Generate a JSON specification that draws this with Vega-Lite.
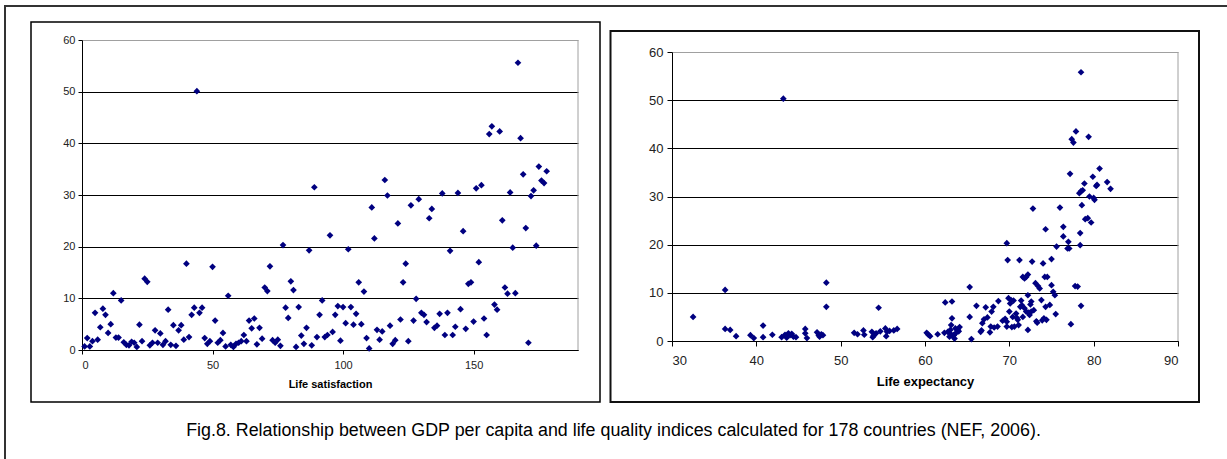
{
  "$schema": "https://vega.github.io/schema/vega-lite/v6.json",
  "width": 1227,
  "height": 459,
  "autosize": "none",
  "padding": 0,
  "background": "white",
  "config": {"view": {"stroke": null}, "font": "Liberation Sans"},
  "title": {"text": "Fig.8. Relationship between GDP per capita and life quality indices calculated for 178 countries (NEF, 2006).", "orient": "bottom", "frame": "group", "anchor": "middle", "offset": -42, "fontSize": 17.85, "fontWeight": "normal", "font": "Liberation Sans", "color": "#000"},
  "datasets": {
    "one": [{"item": "frame"}],
    "sat": [
      {"rank":1,"gdp":0.7},{"rank":2,"gdp":2.3},{"rank":3,"gdp":0.7},{"rank":4,"gdp":1.7},{"rank":5,"gdp":7.2},{"rank":6,"gdp":2.0},{"rank":7,"gdp":4.4},{"rank":8,"gdp":8.0},{"rank":9,"gdp":6.8},{"rank":10,"gdp":3.3},
      {"rank":11,"gdp":5.0},{"rank":12,"gdp":11.0},{"rank":13,"gdp":2.4},{"rank":14,"gdp":2.4},{"rank":15,"gdp":9.6},{"rank":16,"gdp":1.5},{"rank":17,"gdp":1.0},{"rank":18,"gdp":0.9},{"rank":19,"gdp":1.6},{"rank":20,"gdp":1.4},
      {"rank":21,"gdp":0.6},{"rank":22,"gdp":4.9},{"rank":23,"gdp":1.7},{"rank":24,"gdp":13.8},{"rank":25,"gdp":13.2},{"rank":26,"gdp":0.9},{"rank":27,"gdp":1.4},{"rank":28,"gdp":3.8},{"rank":29,"gdp":1.4},{"rank":30,"gdp":3.2},
      {"rank":31,"gdp":1.0},{"rank":32,"gdp":1.7},{"rank":33,"gdp":7.8},{"rank":34,"gdp":1.0},{"rank":35,"gdp":4.8},{"rank":36,"gdp":0.8},{"rank":37,"gdp":3.8},{"rank":38,"gdp":4.8},{"rank":39,"gdp":2.0},{"rank":40,"gdp":16.7},
      {"rank":41,"gdp":2.5},{"rank":42,"gdp":6.8},{"rank":43,"gdp":8.2},{"rank":44,"gdp":50.1},{"rank":45,"gdp":7.2},{"rank":46,"gdp":8.2},{"rank":47,"gdp":2.3},{"rank":48,"gdp":1.2},{"rank":49,"gdp":1.7},{"rank":50,"gdp":16.1},
      {"rank":51,"gdp":5.7},{"rank":52,"gdp":1.4},{"rank":53,"gdp":1.9},{"rank":54,"gdp":3.3},{"rank":55,"gdp":0.7},{"rank":56,"gdp":10.5},{"rank":57,"gdp":1.0},{"rank":58,"gdp":0.6},{"rank":59,"gdp":1.2},{"rank":60,"gdp":1.4},
      {"rank":61,"gdp":1.7},{"rank":62,"gdp":2.9},{"rank":63,"gdp":1.7},{"rank":64,"gdp":5.7},{"rank":65,"gdp":4.2},{"rank":66,"gdp":6.1},{"rank":67,"gdp":1.1},{"rank":68,"gdp":4.3},{"rank":69,"gdp":2.2},{"rank":70,"gdp":12.1},
      {"rank":71,"gdp":11.4},{"rank":72,"gdp":16.2},{"rank":73,"gdp":1.9},{"rank":74,"gdp":1.4},{"rank":75,"gdp":2.0},{"rank":76,"gdp":0.8},{"rank":77,"gdp":20.3},{"rank":78,"gdp":8.2},{"rank":79,"gdp":6.2},{"rank":80,"gdp":13.3},
      {"rank":81,"gdp":11.6},{"rank":82,"gdp":0.6},{"rank":83,"gdp":8.3},{"rank":84,"gdp":2.8},{"rank":85,"gdp":1.2},{"rank":86,"gdp":4.3},{"rank":87,"gdp":19.3},{"rank":88,"gdp":0.9},{"rank":89,"gdp":31.5},{"rank":90,"gdp":2.5},
      {"rank":91,"gdp":6.8},{"rank":92,"gdp":9.6},{"rank":93,"gdp":2.5},{"rank":94,"gdp":2.9},{"rank":95,"gdp":22.2},{"rank":96,"gdp":3.5},{"rank":97,"gdp":6.8},{"rank":98,"gdp":8.5},{"rank":99,"gdp":1.8},{"rank":100,"gdp":8.3},
      {"rank":101,"gdp":5.2},{"rank":102,"gdp":19.5},{"rank":103,"gdp":8.3},{"rank":104,"gdp":4.9},{"rank":105,"gdp":7.0},{"rank":106,"gdp":13.1},{"rank":107,"gdp":5.0},{"rank":108,"gdp":11.3},{"rank":109,"gdp":2.3},{"rank":110,"gdp":0.3},
      {"rank":111,"gdp":27.6},{"rank":112,"gdp":21.6},{"rank":113,"gdp":3.9},{"rank":114,"gdp":2.0},{"rank":115,"gdp":3.6},{"rank":116,"gdp":32.9},{"rank":117,"gdp":29.9},{"rank":118,"gdp":4.7},{"rank":119,"gdp":1.2},{"rank":120,"gdp":1.9},
      {"rank":121,"gdp":24.5},{"rank":122,"gdp":5.9},{"rank":123,"gdp":13.1},{"rank":124,"gdp":16.7},{"rank":125,"gdp":1.7},{"rank":126,"gdp":28.0},{"rank":127,"gdp":5.7},{"rank":128,"gdp":9.9},{"rank":129,"gdp":29.2},{"rank":130,"gdp":7.2},
      {"rank":131,"gdp":6.8},{"rank":132,"gdp":5.4},{"rank":133,"gdp":25.5},{"rank":134,"gdp":27.3},{"rank":135,"gdp":4.3},{"rank":136,"gdp":4.7},{"rank":137,"gdp":7.0},{"rank":138,"gdp":30.3},{"rank":139,"gdp":2.9},{"rank":140,"gdp":7.2},
      {"rank":141,"gdp":19.2},{"rank":142,"gdp":2.9},{"rank":143,"gdp":4.5},{"rank":144,"gdp":30.4},{"rank":145,"gdp":7.9},{"rank":146,"gdp":23.0},{"rank":147,"gdp":4.1},{"rank":148,"gdp":12.8},{"rank":149,"gdp":13.1},{"rank":150,"gdp":5.5},
      {"rank":151,"gdp":31.3},{"rank":152,"gdp":17.0},{"rank":153,"gdp":31.9},{"rank":154,"gdp":6.1},{"rank":155,"gdp":2.9},{"rank":156,"gdp":41.8},{"rank":157,"gdp":43.3},{"rank":158,"gdp":8.8},{"rank":159,"gdp":7.8},{"rank":160,"gdp":42.3},
      {"rank":161,"gdp":25.1},{"rank":162,"gdp":12.1},{"rank":163,"gdp":10.9},{"rank":164,"gdp":30.5},{"rank":165,"gdp":19.8},{"rank":166,"gdp":11.0},{"rank":167,"gdp":55.6},{"rank":168,"gdp":41.0},{"rank":169,"gdp":34.0},{"rank":170,"gdp":23.6},
      {"rank":171,"gdp":1.4},{"rank":172,"gdp":29.8},{"rank":173,"gdp":30.9},{"rank":174,"gdp":20.2},{"rank":175,"gdp":35.5},{"rank":176,"gdp":32.8},{"rank":177,"gdp":32.3},{"rank":178,"gdp":34.6}
    ],
    "exp": [
      {"le":32.5,"gdp":5.0},{"le":36.3,"gdp":10.6},{"le":36.3,"gdp":2.5},{"le":36.9,"gdp":2.3},{"le":37.6,"gdp":1.0},{"le":39.3,"gdp":1.2},{"le":39.7,"gdp":0.6},{"le":40.8,"gdp":3.2},{"le":40.8,"gdp":0.8},{"le":41.9,"gdp":1.3},
      {"le":43.2,"gdp":50.3},{"le":43.0,"gdp":0.8},{"le":43.4,"gdp":1.3},{"le":43.8,"gdp":1.6},{"le":44.0,"gdp":1.2},{"le":44.4,"gdp":0.9},{"le":44.7,"gdp":0.8},{"le":45.8,"gdp":2.5},{"le":45.8,"gdp":1.6},{"le":46.0,"gdp":0.6},
      {"le":47.2,"gdp":1.8},{"le":47.4,"gdp":1.2},{"le":47.7,"gdp":1.4},{"le":47.9,"gdp":1.2},{"le":48.3,"gdp":12.1},{"le":48.3,"gdp":7.1},{"le":51.6,"gdp":1.7},{"le":52.0,"gdp":1.4},{"le":52.7,"gdp":2.2},{"le":52.8,"gdp":1.3},
      {"le":53.7,"gdp":1.9},{"le":53.9,"gdp":1.1},{"le":54.2,"gdp":1.6},{"le":54.5,"gdp":6.9},{"le":54.7,"gdp":2.0},{"le":55.3,"gdp":2.6},{"le":55.4,"gdp":1.0},{"le":55.8,"gdp":2.1},{"le":56.3,"gdp":2.2},{"le":56.7,"gdp":2.5},
      {"le":60.2,"gdp":1.7},{"le":60.6,"gdp":1.0},{"le":61.5,"gdp":1.4},
      {"le":62.4,"gdp":8.0},{"le":63.2,"gdp":8.2},{"le":62.3,"gdp":1.7},{"le":62.7,"gdp":1.9},{"le":63.2,"gdp":4.7},{"le":63.0,"gdp":2.3},{"le":63.1,"gdp":1.4},{"le":63.3,"gdp":1.0},{"le":63.5,"gdp":0.5},{"le":63.7,"gdp":1.7},
      {"le":63.9,"gdp":2.3},{"le":64.1,"gdp":2.9},{"le":63.6,"gdp":2.6},{"le":63.1,"gdp":3.3},{"le":65.3,"gdp":11.2},{"le":65.3,"gdp":5.0},{"le":65.5,"gdp":0.4},{"le":66.1,"gdp":7.3},{"le":66.6,"gdp":1.9},{"le":66.8,"gdp":3.7},
      {"le":67.0,"gdp":4.5},{"le":67.2,"gdp":7.0},{"le":67.4,"gdp":4.9},{"le":67.8,"gdp":3.0},{"le":67.7,"gdp":1.8},{"le":67.9,"gdp":6.1},{"le":68.1,"gdp":7.1},{"le":68.7,"gdp":8.3},{"le":68.6,"gdp":3.0},{"le":69.2,"gdp":4.2},
      {"le":69.7,"gdp":20.3},{"le":69.8,"gdp":16.8},{"le":69.7,"gdp":4.0},{"le":69.7,"gdp":3.0},{"le":69.9,"gdp":8.9},{"le":70.0,"gdp":6.1},{"le":70.2,"gdp":8.5},{"le":70.4,"gdp":5.0},{"le":70.5,"gdp":8.4},{"le":70.6,"gdp":3.0},
      {"le":70.8,"gdp":5.7},{"le":71.0,"gdp":4.4},{"le":71.1,"gdp":3.3},{"le":71.2,"gdp":16.8},{"le":71.3,"gdp":7.1},{"le":71.4,"gdp":8.4},{"le":71.6,"gdp":13.3},{"le":71.8,"gdp":13.0},{"le":72.0,"gdp":13.3},{"le":72.2,"gdp":13.8},
      {"le":71.6,"gdp":5.0},{"le":71.8,"gdp":6.8},{"le":72.0,"gdp":6.1},{"le":72.2,"gdp":9.5},{"le":72.2,"gdp":2.3},{"le":72.4,"gdp":5.4},{"le":72.6,"gdp":8.2},{"le":72.7,"gdp":16.5},{"le":72.8,"gdp":27.5},{"le":72.6,"gdp":6.1},
      {"le":72.9,"gdp":6.4},{"le":73.1,"gdp":12.0},{"le":73.3,"gdp":3.8},{"le":73.4,"gdp":11.4},{"le":73.6,"gdp":10.9},{"le":73.8,"gdp":8.5},{"le":74.0,"gdp":16.1},{"le":74.1,"gdp":4.7},{"le":74.2,"gdp":13.3},{"le":74.3,"gdp":23.2},
      {"le":74.4,"gdp":4.4},{"le":74.5,"gdp":13.3},{"le":74.3,"gdp":7.1},{"le":74.8,"gdp":7.5},{"le":75.0,"gdp":17.0},{"le":75.0,"gdp":11.6},{"le":75.2,"gdp":10.2},{"le":75.4,"gdp":9.5},{"le":75.5,"gdp":5.6},{"le":75.6,"gdp":19.6},
      {"le":76.0,"gdp":27.7},{"le":76.4,"gdp":23.7},{"le":76.4,"gdp":21.7},{"le":77.0,"gdp":20.6},{"le":76.9,"gdp":19.2},{"le":77.1,"gdp":19.2},{"le":77.2,"gdp":34.7},{"le":77.3,"gdp":3.5},{"le":77.4,"gdp":41.9},{"le":77.6,"gdp":41.2},
      {"le":77.9,"gdp":43.5},{"le":77.8,"gdp":11.4},{"le":78.1,"gdp":11.3},{"le":78.3,"gdp":30.7},{"le":78.4,"gdp":22.4},{"le":78.4,"gdp":19.9},{"le":78.5,"gdp":55.8},{"le":78.5,"gdp":31.1},{"le":78.5,"gdp":7.3},{"le":78.6,"gdp":28.2},
      {"le":78.7,"gdp":31.3},{"le":78.9,"gdp":32.7},{"le":79.0,"gdp":25.3},{"le":79.3,"gdp":25.5},{"le":79.4,"gdp":42.4},{"le":79.5,"gdp":30.0},{"le":79.7,"gdp":24.6},{"le":79.9,"gdp":34.1},{"le":80.0,"gdp":29.7},{"le":80.1,"gdp":29.3},
      {"le":80.3,"gdp":32.2},{"le":80.4,"gdp":32.4},{"le":80.7,"gdp":35.8},{"le":81.6,"gdp":33.0},{"le":82.0,"gdp":31.6},
      {"le":43.6,"gdp":0.7},{"le":44.2,"gdp":1.5},{"le":47.5,"gdp":0.9},{"le":53.8,"gdp":0.8},{"le":55.5,"gdp":1.9},{"le":60.4,"gdp":1.3},{"le":62.9,"gdp":0.9},{"le":63.4,"gdp":1.2},{"le":64.0,"gdp":2.0},{"le":66.7,"gdp":2.2},
      {"le":68.2,"gdp":2.8},{"le":70.3,"gdp":2.9},{"le":70.9,"gdp":4.8},{"le":71.5,"gdp":7.4},{"le":72.3,"gdp":5.9},{"le":72.5,"gdp":7.6},{"le":73.2,"gdp":4.1},{"le":73.9,"gdp":4.3},{"le":70.1,"gdp":7.8},{"le":69.5,"gdp":4.6}
    ]
  },
  "layer": [
    {
      "data": {"name": "one"},
      "mark": {"type": "rect", "filled": false, "color": "#333333", "strokeWidth": 2},
      "encoding": {
        "x": {"field": "item", "type": "nominal", "scale": {"type": "band", "range": [5, 1231], "paddingInner": 0, "paddingOuter": 0}, "axis": null},
        "y": {"field": "item", "type": "nominal", "scale": {"type": "band", "range": [6, 463], "paddingInner": 0, "paddingOuter": 0}, "axis": null}
      }
    },
    {
      "data": {"name": "one"},
      "mark": {"type": "rect", "filled": false, "color": "#000000", "strokeWidth": 1.5},
      "encoding": {
        "x": {"field": "item", "type": "nominal", "scale": {"type": "band", "range": [31, 600], "paddingInner": 0, "paddingOuter": 0}, "axis": null},
        "y": {"field": "item", "type": "nominal", "scale": {"type": "band", "range": [22, 402], "paddingInner": 0, "paddingOuter": 0}, "axis": null}
      }
    },
    {
      "data": {"name": "one"},
      "mark": {"type": "rect", "filled": false, "color": "#111111", "strokeWidth": 2},
      "encoding": {
        "x": {"field": "item", "type": "nominal", "scale": {"type": "band", "range": [610.5, 1199], "paddingInner": 0, "paddingOuter": 0}, "axis": null},
        "y": {"field": "item", "type": "nominal", "scale": {"type": "band", "range": [31, 402], "paddingInner": 0, "paddingOuter": 0}, "axis": null}
      }
    },
    {
      "layer": [
        {
          "data": {"name": "sat"},
          "mark": {"type": "point", "shape": "diamond", "filled": true, "color": "#000080", "size": 45, "opacity": 1},
          "encoding": {
            "x": {"field": "rank", "type": "quantitative", "scale": {"domain": [0, 190], "range": [82, 578], "nice": false, "zero": false},
              "axis": {"orient": "bottom", "offset": -109, "values": [0, 50, 100, 150], "title": "Life satisfaction", "titleFontSize": 11, "titleFontWeight": "bold", "titleColor": "#000", "titlePadding": 8, "labelFontSize": 11, "labelColor": "#222", "labelPadding": 5, "tickSize": 4, "tickColor": "#000", "domainColor": "#000", "grid": false}},
            "y": {"field": "gdp", "type": "quantitative", "scale": {"domain": [0, 60], "range": [350, 40], "nice": false, "zero": false},
              "axis": {"orient": "left", "offset": -82, "values": [0, 10, 20, 30, 40, 50, 60], "title": null, "labelFontSize": 11, "labelColor": "#222", "labelPadding": 3, "tickSize": 4, "tickColor": "#000", "domainColor": "#000", "grid": true, "gridColor": {"condition": {"test": "datum.value == 60", "value": "#a0a0a0"}, "value": "#000000"}, "gridOpacity": 1}}
          }
        },
        {
          "data": {"name": "one"},
          "mark": {"type": "rule", "color": "#a0a0a0", "strokeWidth": 1},
          "encoding": {
            "x": {"datum": 190, "type": "quantitative", "scale": {"domain": [0, 190], "range": [82, 578], "nice": false, "zero": false}},
            "y": {"datum": 0, "type": "quantitative", "scale": {"domain": [0, 60], "range": [350, 40], "nice": false, "zero": false}},
            "y2": {"datum": 60}
          }
        }
      ]
    },
    {
      "layer": [
        {
          "data": {"name": "exp"},
          "mark": {"type": "point", "shape": "diamond", "filled": true, "color": "#000080", "size": 45, "opacity": 1},
          "encoding": {
            "x": {"field": "le", "type": "quantitative", "scale": {"domain": [30, 90], "range": [672, 1178], "nice": false, "zero": false},
              "axis": {"orient": "bottom", "offset": -118, "values": [30, 40, 50, 60, 70, 80, 90], "title": "Life expectancy", "titleFontSize": 13, "titleFontWeight": "bold", "titleColor": "#000", "titlePadding": 8, "labelFontSize": 13, "labelColor": "#222", "labelPadding": 8, "tickSize": 5, "tickColor": "#000", "domainColor": "#000", "grid": false}},
            "y": {"field": "gdp", "type": "quantitative", "scale": {"domain": [0, 60], "range": [341, 52], "nice": false, "zero": false},
              "axis": {"orient": "left", "offset": -672, "values": [0, 10, 20, 30, 40, 50, 60], "title": null, "labelFontSize": 13, "labelColor": "#222", "labelPadding": 4, "tickSize": 5, "tickColor": "#000", "domainColor": "#000", "grid": true, "gridColor": {"condition": {"test": "datum.value == 60", "value": "#a0a0a0"}, "value": "#000000"}, "gridOpacity": 1}}
          }
        },
        {
          "data": {"name": "one"},
          "mark": {"type": "rule", "color": "#a0a0a0", "strokeWidth": 1},
          "encoding": {
            "x": {"datum": 90, "type": "quantitative", "scale": {"domain": [30, 90], "range": [672, 1178], "nice": false, "zero": false}},
            "y": {"datum": 0, "type": "quantitative", "scale": {"domain": [0, 60], "range": [341, 52], "nice": false, "zero": false}},
            "y2": {"datum": 60}
          }
        }
      ]
    }
  ],
  "resolve": {"scale": {"x": "independent", "y": "independent"}}
}
